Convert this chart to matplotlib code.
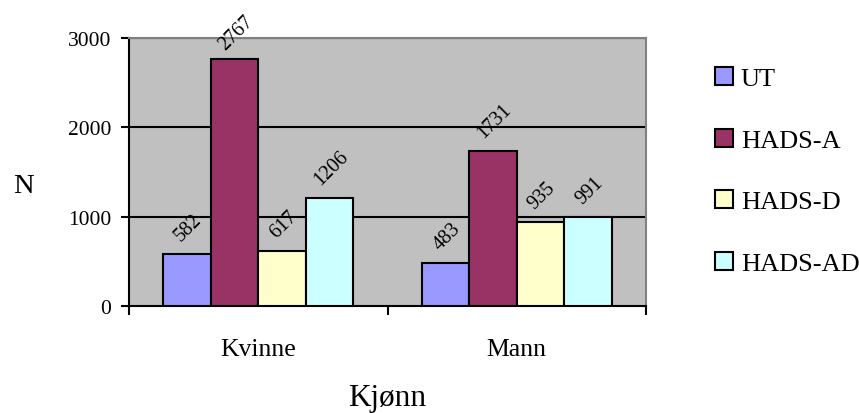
import matplotlib
matplotlib.use("Agg")
import matplotlib.pyplot as plt
import numpy as np
from matplotlib.patches import Patch

categories = ["Kvinne", "Mann"]
series = ["UT", "HADS-A", "HADS-D", "HADS-AD"]
values = {
    "UT": [582, 483],
    "HADS-A": [2767, 1731],
    "HADS-D": [617, 935],
    "HADS-AD": [1206, 991],
}
colors = ["#9999FF", "#993366", "#FFFFCC", "#CCFFFF"]
yticks = [0, 1000, 2000, 3000]

plt.rcParams['font.family'] = ['Liberation Serif', 'DejaVu Serif']

fig = plt.figure(figsize=(8.59, 4.14), dpi=100)
ax = fig.add_axes([129/859, 1-307/414, (646-129)/859, (307-39)/414])
ax.set_facecolor("#C0C0C0")

x = np.arange(len(categories))
bw = 0.184
labels = []
for i, s in enumerate(series):
    pos = x + (i - 1.5) * bw
    ax.bar(pos, values[s], width=bw, color=colors[i], edgecolor="black", linewidth=1.5, zorder=3)
    for p, v in zip(pos, values[s]):
        a = ax.annotate(str(v), (p, v), xytext=(1, 7), textcoords="offset points",
                        ha="center", va="bottom", rotation=45, fontsize=14.5, zorder=4,
                        annotation_clip=False)
        labels.append(a)

ax.set_ylim(0, 3000)
ax.set_xlim(-0.5, 1.5)
ax.set_yticks(yticks)
ax.set_yticklabels([str(t) for t in yticks], fontsize=15.5)
for t in yticks[1:]:
    ax.axhline(t, color="black", linewidth=1.5, zorder=1)

ax.set_xticks([-0.5, 0.5, 1.5])
ax.set_xticklabels([])
ax.set_xticks(x, minor=True)
ax.set_xticklabels(categories, minor=True, fontsize=18.5)
ax.tick_params(axis="x", which="major", direction="out", length=6.5, width=1.5)
ax.tick_params(axis="x", which="minor", length=0, pad=23)
ax.tick_params(axis="y", direction="out", length=6, width=1.5, pad=7)

for sp in ["top", "right"]:
    ax.spines[sp].set_color("#808080")
    ax.spines[sp].set_linewidth(1.5)
for sp in ["left", "bottom"]:
    ax.spines[sp].set_color("black")
    ax.spines[sp].set_linewidth(1.5)

fig.text(23/859, 1-187/414, "N", fontsize=20.5, ha="center", va="center")
fig.text(387/859, 1-399/414, "Kjønn", fontsize=22.5, ha="center", va="center")

handles = [Patch(facecolor=c, edgecolor="black", linewidth=1.5) for c in colors]
leg = fig.legend(handles, series, loc="upper left", bbox_to_anchor=(715/859, 1-68/414),
                 frameon=False, fontsize=19, handlelength=0.68, handleheight=0.68,
                 handletextpad=0.3, labelspacing=1.45, borderaxespad=0, borderpad=0)

# keep data labels inside the chart area (push down if they would rise above it)
fig.canvas.draw()
renderer = fig.canvas.get_renderer()
top_limit = fig.bbox.height - 12
for a in labels:
    bb = a.get_window_extent(renderer)
    if bb.y1 > top_limit:
        dx, dy = a.xyann
        a.xyann = (dx, dy - (bb.y1 - top_limit) * 72 / fig.dpi)

fig.savefig("out.png", dpi=100)
